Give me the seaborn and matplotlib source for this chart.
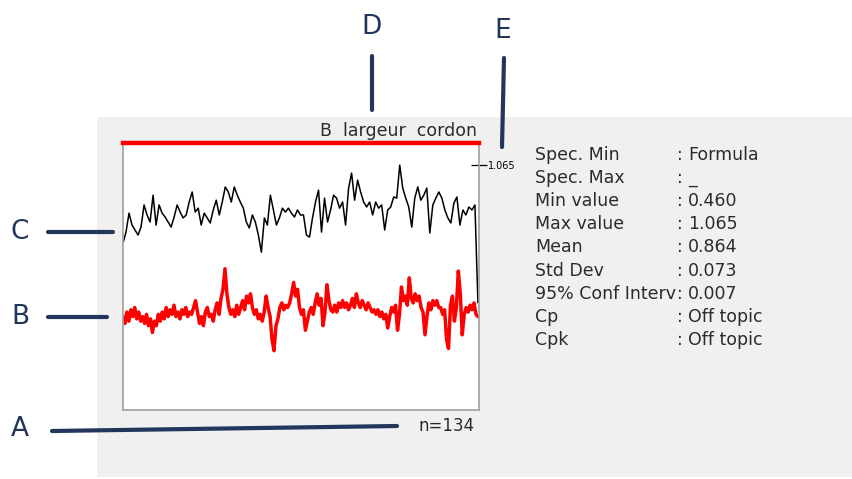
import matplotlib
matplotlib.use("Agg")
import matplotlib.pyplot as plt
import numpy as np
import seaborn as sns
from matplotlib.lines import Line2D
from matplotlib.patches import Rectangle

# measured trace (width values), n=134 in the report
width_values = [
    0.723, 0.771, 0.854, 0.802, 0.780, 0.758, 0.793, 0.890, 0.846, 0.815,
    0.933, 0.802, 0.890, 0.854, 0.837, 0.815, 0.793, 0.837, 0.890, 0.859,
    0.833, 0.846, 0.903, 0.947, 0.859, 0.876, 0.802, 0.854, 0.833,
    0.811, 0.868, 0.911, 0.846, 0.903, 0.969, 0.947, 0.903, 0.969, 0.933,
    0.903, 0.876, 0.815, 0.789, 0.846, 0.815, 0.758, 0.683, 0.833, 0.802,
    0.933, 0.868, 0.802, 0.833, 0.876, 0.859, 0.876, 0.854, 0.837, 0.868,
    0.846, 0.846, 0.758,
    0.749, 0.833, 0.903, 0.955, 0.771, 0.920, 0.815, 0.868, 0.933, 0.920,
    0.876, 0.903, 0.802, 0.964, 1.030, 0.911, 0.999, 0.947, 0.903, 0.881,
    0.903, 0.846, 0.903, 0.876, 0.890, 0.780, 0.868, 0.881, 0.925, 0.920,
    1.065, 0.964, 0.920, 0.881, 0.793, 0.920, 0.969, 0.911, 0.933, 0.964,
    0.767, 0.890, 0.920, 0.947, 0.920, 0.868, 0.833, 0.811, 0.898, 0.925,
    0.802, 0.868, 0.846, 0.881, 0.868, 0.890, 0.460,
]

# red high-frequency trace
red_values = [
    0.40, 0.37, 0.42, 0.38, 0.43, 0.40, 0.44, 0.39, 0.42, 0.38, 0.40, 0.37, 0.41, 0.36, 0.39, 0.33, 0.38, 0.36,
    0.41, 0.38, 0.42, 0.39, 0.44, 0.40, 0.43, 0.41, 0.45, 0.40, 0.42, 0.39, 0.43, 0.41, 0.44, 0.40, 0.42, 0.41,
    0.44, 0.47, 0.42, 0.37, 0.40, 0.36, 0.42, 0.44, 0.40, 0.41, 0.38, 0.43, 0.46, 0.41, 0.48, 0.52, 0.61, 0.50,
    0.44, 0.41, 0.43, 0.40, 0.45, 0.41, 0.44, 0.47, 0.43, 0.49, 0.46, 0.50, 0.44, 0.41, 0.43, 0.39, 0.41, 0.38,
    0.42, 0.49, 0.44, 0.40, 0.30, 0.25, 0.36, 0.39, 0.44, 0.46, 0.43, 0.45, 0.44, 0.46, 0.50, 0.55, 0.49, 0.52,
    0.44, 0.41, 0.43, 0.34, 0.38, 0.42, 0.44, 0.41, 0.46, 0.50, 0.45, 0.48, 0.36, 0.42, 0.54, 0.47, 0.43, 0.42,
    0.45, 0.42, 0.46, 0.44, 0.47, 0.44, 0.46, 0.43, 0.45, 0.48, 0.44, 0.50, 0.46, 0.44, 0.47, 0.45, 0.43, 0.46,
    0.44, 0.42, 0.43, 0.41, 0.43, 0.40, 0.42, 0.39, 0.41, 0.35, 0.40, 0.44, 0.42, 0.45, 0.34, 0.41, 0.53, 0.47,
    0.49, 0.45, 0.57, 0.48, 0.46, 0.50, 0.47, 0.49, 0.44, 0.42, 0.32, 0.40, 0.46, 0.43, 0.47, 0.45, 0.47, 0.44,
    0.44, 0.41, 0.43, 0.30, 0.26, 0.45, 0.49, 0.38, 0.44, 0.60, 0.50, 0.32, 0.41, 0.44, 0.42, 0.45, 0.43, 0.46, 0.41, 0.40,
]

chart_title = "B  largeur  cordon"
max_tick = 1.065
n_label = "n=134"

stat_names = ["Spec. Min", "Spec. Max", "Min value", "Max value", "Mean",
              "Std Dev", "95% Conf Interv", "Cp", "Cpk"]
stat_values = ["Formula", "_", "0.460", "1.065", "0.864",
               "0.073", "0.007", "Off topic", "Off topic"]

callouts = ["A", "B", "C", "D", "E"]

W, H = 853, 479
sns.set_style("white")
plt.rcParams["font.family"] = ["DejaVu Sans"]

fig = plt.figure(figsize=(W / 100, H / 100), dpi=100)

# overlay axes in pixel coordinates for the panel, callouts and stats
bg = fig.add_axes([0, 0, 1, 1], zorder=0)
bg.set_xlim(0, W)
bg.set_ylim(H, 0)
bg.axis("off")
bg.add_patch(Rectangle((97, 117), W - 97, 360, color="#f0f0f0", lw=0))

navy = "#21365a"
callout_pos = {"A": (20, 429), "B": (20, 317), "C": (20, 232), "D": (372, 27), "E": (503, 31)}
callout_lines = {
    "A": ((52, 397), (431, 426)),
    "B": ((48, 107), (317, 317)),
    "C": ((48, 113), (232, 232)),
    "D": ((372, 372), (56, 110)),
    "E": ((504, 502), (58, 147)),
}
for name in callouts:
    x, y = callout_pos[name]
    bg.text(x, y, name, fontsize=19, color=navy, ha="center", va="center")
    xs, ys = callout_lines[name]
    bg.add_line(Line2D(xs, ys, color=navy, lw=3))

text_col = "#2b2b2b"
bg.text(477, 131, chart_title, fontsize=12.5, color=text_col, ha="right", va="center")
bg.text(475, 426, n_label, fontsize=12, color=text_col, ha="right", va="center")
for i, (name, val) in enumerate(zip(stat_names, stat_values)):
    y = 155 + i * 23.1
    bg.text(535, y, name, fontsize=12.5, color=text_col, ha="left", va="center")
    bg.text(677, y, ":", fontsize=12.5, color=text_col, ha="left", va="center")
    bg.text(688, y, val, fontsize=12.5, color=text_col, ha="left", va="center")

# main chart box
ax = fig.add_axes([123 / W, 1 - 410 / H, 356 / W, 267 / H], zorder=1)
ax.set_facecolor("white")

xb = np.linspace(0, 1, len(width_values))
xr = np.linspace(0, 1, len(red_values))
sns.lineplot(x=xr, y=red_values, ax=ax, color="red", linewidth=2.5, estimator=None, sort=False)
sns.lineplot(x=xb, y=width_values, ax=ax, color="black", linewidth=1.1, estimator=None, sort=False)

ax.set_xlim(0, 1.003)
ax.set_ylim(-0.01, 1.162)
ax.set_xticks([])
ax.yaxis.tick_right()
ax.set_yticks([max_tick], labels=["1.065"])
ax.tick_params(axis="y", direction="inout", length=11, width=0.9, pad=1,
               labelsize=7, colors="black")
for side in ["left", "bottom", "right"]:
    ax.spines[side].set_color("#a0a0a0")
    ax.spines[side].set_linewidth(1.2)
ax.spines["top"].set_color("red")
ax.spines["top"].set_linewidth(3.2)
ax.set_xlabel("")
ax.set_ylabel("")

fig.savefig("out.png", dpi=100)
